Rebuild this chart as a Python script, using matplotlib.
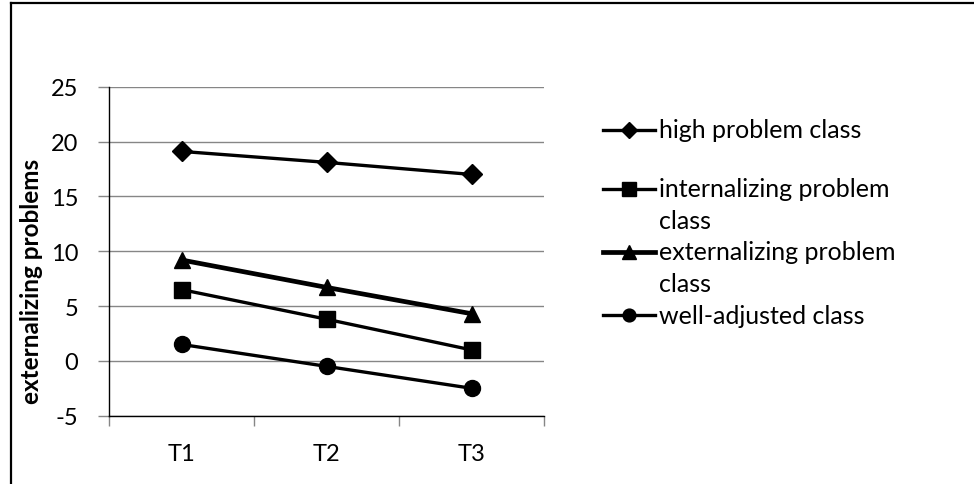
import matplotlib
matplotlib.use("Agg")
import matplotlib.pyplot as plt
from matplotlib.lines import Line2D

plt.rcParams['font.family'] = ['Lato', 'DejaVu Sans']
plt.rcParams['axes.unicode_minus'] = False

# mean externalizing scores per latent class at each wave
waves = ['T1', 'T2', 'T3']
high_problem = [19.1, 18.1, 17.0]
internalizing_problem = [6.5, 3.8, 1.0]
externalizing_problem = [9.2, 6.7, 4.3]
well_adjusted = [1.5, -0.5, -2.5]

series_labels = ['high problem class',
                 'internalizing problem\nclass',
                 'externalizing problem\nclass',
                 'well-adjusted class']

W, H = 974, 485
fig = plt.figure(figsize=(W / 100, H / 100), dpi=100)

# outer frame (only top and left edges are visible)
fig.add_artist(Line2D([10.5 / W, 1.0], [1 - 3.5 / H, 1 - 3.5 / H],
                      transform=fig.transFigure, color='black', lw=1.6))
fig.add_artist(Line2D([10.5 / W, 10.5 / W], [0.0, 1 - 3.5 / H],
                      transform=fig.transFigure, color='black', lw=1.6))

ax = fig.add_axes([109 / W, 1 - 416.7 / H, 435 / W, 329 / H])

x = list(range(len(waves)))
styles = [
    (high_problem, 'D', 10, 2.4),
    (internalizing_problem, 's', 12, 2.4),
    (externalizing_problem, '^', 12, 3.4),
    (well_adjusted, 'o', 11.5, 2.4),
]
for values, marker, ms, lw in styles:
    ax.plot(x, values, color='black', lw=lw, marker=marker, markersize=ms,
            zorder=3, clip_on=False)

ax.set_xlim(-0.5, 2.5)
ax.set_ylim(-5, 25)
ax.set_yticks(range(-5, 30, 5))
ax.set_xticks(x)
ax.set_xticklabels(waves)
# category boundary ticks like a spreadsheet chart
ax.set_xticks([-0.5, 0.5, 1.5, 2.5], minor=True)
ax.tick_params(axis='x', which='major', length=0, pad=20, labelsize=17)
ax.tick_params(axis='x', which='minor', length=7, color='#868686', width=1)
ax.tick_params(axis='y', length=8, color='#868686', width=1, pad=14, labelsize=17)

ax.yaxis.grid(True, color='#868686', lw=1)
ax.set_axisbelow(True)
for side in ['top', 'right']:
    ax.spines[side].set_visible(False)
ax.spines['left'].set_color('black')
ax.spines['bottom'].set_color('black')
ax.spines['left'].set_linewidth(1)
ax.spines['bottom'].set_linewidth(1)

ax.set_ylabel('externalizing problems', fontsize=17.5, fontweight='bold')
ax.yaxis.set_label_coords(-0.152, 0.412)

# legend drawn by hand: marker sample, then label lines
legend_rows = [131, 190, 253, 316]
line_gap = 31.5
for (values, marker, ms, lw), label, yp in zip(styles, series_labels, legend_rows):
    yf = 1 - yp / H
    fig.add_artist(Line2D([603 / W, 655 / W], [yf, yf], transform=fig.transFigure,
                          color='black', lw=lw))
    fig.add_artist(Line2D([629 / W], [yf], transform=fig.transFigure,
                          color='black', marker=marker, markersize=ms * 0.8))
    for i, part in enumerate(label.split('\n')):
        fig.text(659 / W, 1 - (yp + i * line_gap) / H, part, fontsize=18,
                 va='center', ha='left')

fig.savefig('out.png', dpi=100)
